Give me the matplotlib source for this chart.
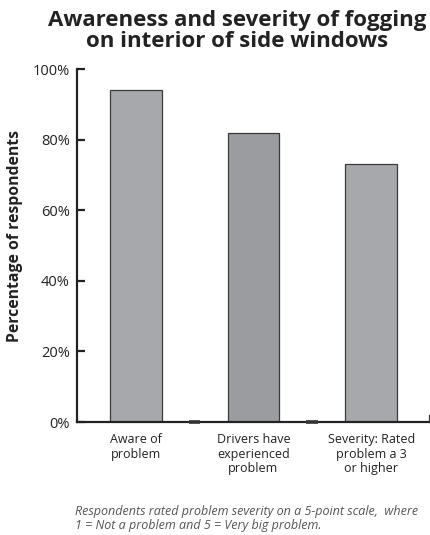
import matplotlib
matplotlib.use("Agg")
import matplotlib.pyplot as plt

categories = ["Aware of\nproblem", "Drivers have\nexperienced\nproblem", "Severity: Rated\nproblem a 3\nor higher"]
values = [94, 82, 73]
bar_colors = ["#a7a8ab", "#9b9c9f", "#a7a8ab"]
y_ticks = [0, 20, 40, 60, 80, 100]

plt.rcParams['font.family'] = ['Open Sans', 'DejaVu Sans']

fig = plt.figure(figsize=(4.31, 5.35), dpi=100)
ax = fig.add_axes([0.178, 0.211, 0.82, 0.66])

x = range(len(values))
ax.bar(x, values, width=0.44, color=bar_colors, edgecolor="#3a3a3a", linewidth=0.9)

ax.set_xlim(-0.5, 2.5)
ax.set_ylim(0, 100)
ax.set_yticks(y_ticks)
ax.set_yticklabels([f"{v}%" for v in y_ticks], fontsize=10.5, color="#222222")
ax.tick_params(axis="y", direction="in", length=6, width=1.6, color="#222222", pad=5)

# category labels under the bars, small marks between categories
ax.set_xticks(list(x))
ax.set_xticklabels(categories, fontsize=9, color="#222222", linespacing=1.15)
ax.tick_params(axis="x", length=0, pad=8)
for b in [0.5, 1.5]:
    ax.plot([b - 0.05, b + 0.05], [0, 0], color="#333333", lw=2.6, solid_capstyle="butt", clip_on=False, zorder=5)
ax.plot([2.5, 2.5], [0, 1.8], color="#333333", lw=1.6, clip_on=False, zorder=5)

for s in ["top", "right"]:
    ax.spines[s].set_visible(False)
for s in ["left", "bottom"]:
    ax.spines[s].set_linewidth(1.6)
    ax.spines[s].set_color("#222222")

fig.text(0.55, 0.982, "Awareness and severity of fogging\non interior of side windows",
         ha="center", va="top", fontsize=16, fontweight="bold", color="#222222", linespacing=1.0)
fig.text(0.035, 0.559, "Percentage of respondents", rotation=90, ha="center", va="center",
         fontsize=11.3, fontweight="bold", color="#222222")
fig.text(0.174, 0.006, "Respondents rated problem severity on a 5-point scale,  where\n1 = Not a problem and 5 = Very big problem.",
         ha="left", va="bottom", fontsize=9, style="italic", color="#555555", linespacing=1.1)

fig.savefig("out.png", dpi=100)
